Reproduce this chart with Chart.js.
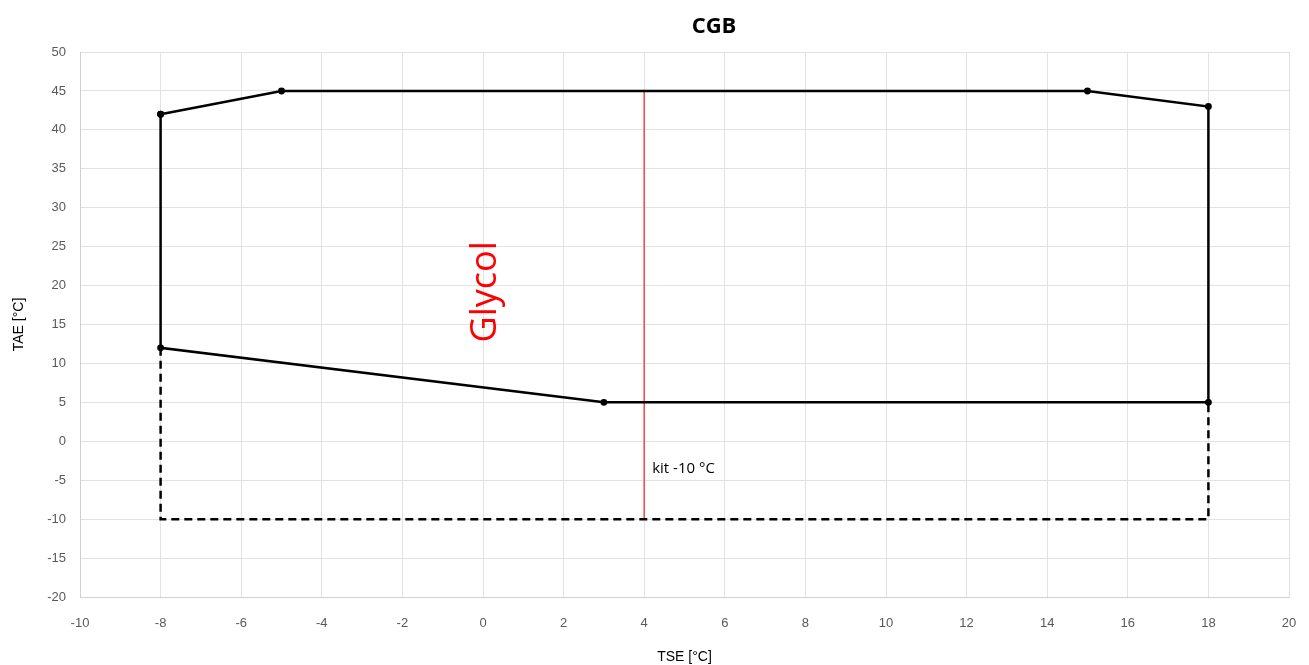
<!DOCTYPE html>
<html><head><meta charset="utf-8">
<script src="https://cdn.jsdelivr.net/npm/chart.js@4.4.1/dist/chart.umd.min.js"></script>
<style>html,body{margin:0;padding:0;background:#fff;}#wrap{width:1309px;height:665px;}</style>
</head><body><div id="wrap"><canvas id="c" width="1309" height="665"></canvas></div>
<script>
const chartTitle = "CGB";
const xTitle = "TSE [°C]";
const yTitle = "TAE [°C]";
const envelopeX = [-8, -5, 15, 18, 18, 3, -8, -8];
const envelopeY = [42, 45, 45, 43, 5, 5, 12, 42];
const kitX = [-8, -8, 18, 18];
const kitY = [12, -10, -10, 5];
const glycolX = [4, 4];
const glycolY = [45, -10];
const glycolLabel = "Glycol";
const kitLabel = "kit -10 °C";
const xRange = [-10, 20, 2];
const yRange = [-20, 50, 5];

const toPts = (xs, ys) => xs.map((x, i) => ({x: x, y: ys[i]}));

const textPlugin = {
  id: 'texts',
  afterDatasetsDraw(chart) {
    const ctx = chart.ctx, xs = chart.scales.x, ys = chart.scales.y, a = chart.chartArea;
    ctx.save();
    ctx.fillStyle = '#ff0000';
    ctx.font = '36px "Open Sans", sans-serif';
    ctx.textAlign = 'center'; ctx.textBaseline = 'middle';
    ctx.translate(xs.getPixelForValue(0) + 3, ys.getPixelForValue(19.2));
    ctx.rotate(-Math.PI / 2);
    ctx.fillText(glycolLabel, 0, 0);
    ctx.restore();
    ctx.save();
    ctx.fillStyle = '#000';
    ctx.font = '15px "Open Sans", sans-serif';
    ctx.textAlign = 'left'; ctx.textBaseline = 'middle';
    ctx.fillText(kitLabel, xs.getPixelForValue(4) + 8, ys.getPixelForValue(-3.5));
    ctx.font = 'bold 22px "Open Sans", sans-serif';
    ctx.textAlign = 'center';
    ctx.fillText(chartTitle, 714, 27);
    ctx.font = '14px "Liberation Sans", sans-serif';
    ctx.fillText(xTitle, (a.left + a.right) / 2, 657);
    ctx.translate(19, (a.top + a.bottom) / 2);
    ctx.rotate(-Math.PI / 2);
    ctx.fillText(yTitle, 0, 0);
    ctx.restore();
  }
};

new Chart(document.getElementById('c'), {
  type: 'scatter',
  data: {
    datasets: [
      {data: toPts(envelopeX, envelopeY), showLine: true, borderColor: '#000', backgroundColor: '#000',
       borderWidth: 2.5, pointRadius: 2.2, pointHoverRadius: 2.2, tension: 0, order: 1},
      {data: toPts(kitX, kitY), showLine: true, borderColor: '#000', borderWidth: 2.5,
       borderDash: [8, 5], pointRadius: 0, tension: 0, order: 2},
      {data: toPts(glycolX, glycolY), showLine: true, borderColor: '#f04848', borderWidth: 1.5,
       pointRadius: 0, tension: 0, order: 3}
    ]
  },
  options: {
    responsive: false,
    animation: false,
    layout: {padding: {top: 52, right: 20, left: 0, bottom: 0}},
    plugins: {legend: {display: false}, tooltip: {enabled: false}, title: {display: false}},
    scales: {
      x: {
        type: 'linear', min: xRange[0], max: xRange[1],
        ticks: {stepSize: xRange[2], color: '#595959', font: {size: 13, family: '"Liberation Sans", sans-serif'}, padding: 19},
        grid: {color: '#e2e2e2', drawTicks: false, lineWidth: 1},
        border: {color: '#d0d0d0'},
        afterFit(s) { s.height = 68; s.paddingLeft = 0; s.paddingRight = 0; }
      },
      y: {
        type: 'linear', min: yRange[0], max: yRange[1],
        ticks: {stepSize: yRange[2], color: '#595959', font: {size: 13, family: '"Liberation Sans", sans-serif'}, padding: 14},
        grid: {color: '#e2e2e2', drawTicks: false, lineWidth: 1},
        border: {color: '#d0d0d0'},
        afterFit(s) { s.width = 80; s.paddingTop = 0; s.paddingBottom = 0; }
      }
    }
  },
  plugins: [textPlugin]
});
</script></body></html>
